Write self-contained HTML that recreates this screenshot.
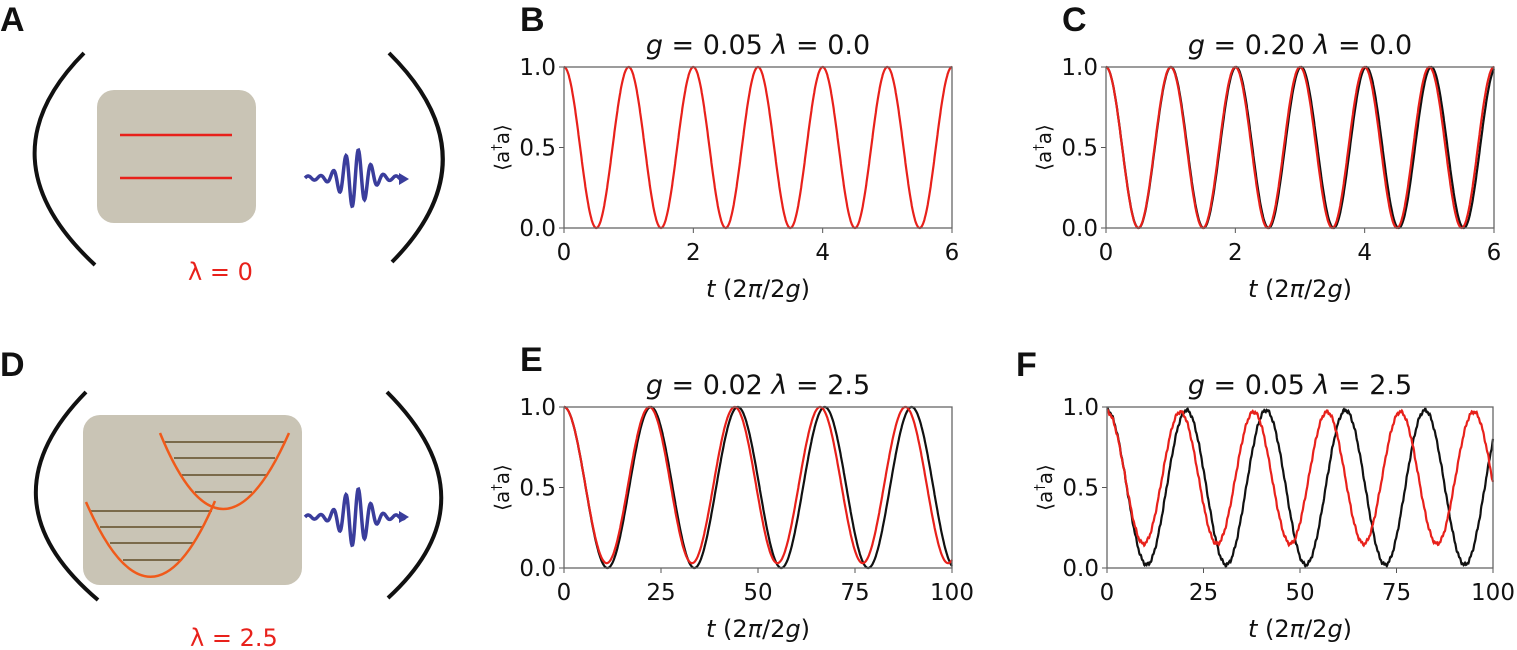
<!DOCTYPE html>
<html><head><meta charset="utf-8"><style>
body{margin:0;background:#fff;width:1517px;height:650px;overflow:hidden}
svg{display:block}
text{font-family:"DejaVu Sans","Liberation Sans",sans-serif;fill:#111}
</style></head><body>
<svg id="s" width="1517" height="650" viewBox="0 0 1517 650" xmlns="http://www.w3.org/2000/svg">
<g>
<text x="0" y="31" style="font-family:'Liberation Sans';font-weight:bold;font-size:34px">A</text>
<text x="520" y="31" style="font-family:'Liberation Sans';font-weight:bold;font-size:34px">B</text>
<text x="1062" y="31" style="font-family:'Liberation Sans';font-weight:bold;font-size:34px">C</text>
<text x="0" y="376" style="font-family:'Liberation Sans';font-weight:bold;font-size:34px">D</text>
<text x="520" y="371" style="font-family:'Liberation Sans';font-weight:bold;font-size:34px">E</text>
<text x="1016" y="376" style="font-family:'Liberation Sans';font-weight:bold;font-size:34px">F</text>
</g>
<!-- Panel A -->
<path d="M84,53 Q-20,158 95,265" fill="none" stroke="#111" stroke-width="4"/>
<path d="M389,53 Q495,158 392,262" fill="none" stroke="#111" stroke-width="4"/>
<rect x="97" y="90" width="159" height="133" rx="17" fill="#c9c4b5"/>
<line x1="120" y1="135" x2="232" y2="135" stroke="#e8211b" stroke-width="2.5"/>
<line x1="120" y1="178" x2="232" y2="178" stroke="#e8211b" stroke-width="2.5"/>
<path id="waveA" fill="none" stroke="#3a3d9c" stroke-width="3.5"/>
<polygon points="399,173 409,179 399,185" fill="#3a3d9c"/>
<text x="188" y="280" font-size="24"><tspan fill="#e8211b">λ = 0</tspan></text>
<!-- Panel D -->
<path d="M86,392 Q-20,500 98,600" fill="none" stroke="#111" stroke-width="4"/>
<path d="M387,392 Q495,500 388,598" fill="none" stroke="#111" stroke-width="4"/>
<rect x="83" y="415" width="219" height="170" rx="17" fill="#c9c4b5"/>
<g stroke="#7a6a4a" stroke-width="2">
<line x1="165" y1="442" x2="285" y2="442"/><line x1="174" y1="458" x2="275" y2="458"/>
<line x1="182" y1="475" x2="266" y2="475"/><line x1="195" y1="492" x2="252" y2="492"/>
<line x1="90" y1="511" x2="212" y2="511"/><line x1="100" y1="527" x2="203" y2="527"/>
<line x1="110" y1="543" x2="193" y2="543"/><line x1="123" y1="560" x2="180" y2="560"/>
</g>
<path d="M160,433 Q222,585 289,433" fill="none" stroke="#f05a1a" stroke-width="2.5"/>
<path d="M86,502 Q151,652 215,501" fill="none" stroke="#f05a1a" stroke-width="2.5"/>
<path id="waveD" fill="none" stroke="#3a3d9c" stroke-width="3.5"/>
<polygon points="399,511 409,517 399,523" fill="#3a3d9c"/>
<text x="190" y="646" font-size="24"><tspan fill="#e8211b">λ = 2.5</tspan></text>
<g id="plots"></g>
</svg>
<script>
function wave(id,y0){var d="";for(var i=0;i<=200;i++){var x=305+i*0.5;var u=(x-355)/17;var y=y0-27*Math.exp(-u*u)*Math.sin((x-305)*0.5)-2*Math.sin((x-305)*0.5);d+=(i?"L":"M")+x.toFixed(1)+","+y.toFixed(1);}document.getElementById(id).setAttribute("d",d);}
wave("waveA",178);wave("waveD",517);
var g=document.getElementById("plots"),out="";
function panel(x0,x1,y0,y1,xmax,xt,title,series){
 var W=x1-x0,H=y1-y0;
 out+='<text x="'+((x0+x1)/2)+'" y="'+(y0-13)+'" font-size="27" text-anchor="middle"><tspan font-style="italic">g</tspan> = '+title[0]+' <tspan font-style="italic">λ</tspan> = '+title[1]+'</text>';
 [0,0.5,1].forEach(function(v){var y=y1-v*H;out+='<line x1="'+(x0-5)+'" y1="'+y+'" x2="'+x0+'" y2="'+y+'" stroke="#555" stroke-width="1"/><text x="'+(x0-8)+'" y="'+(y+8)+'" font-size="23" text-anchor="end">'+v.toFixed(1)+'</text>';});
 xt.forEach(function(v){var x=x0+v/xmax*W;out+='<line x1="'+x+'" y1="'+y1+'" x2="'+x+'" y2="'+(y1+5)+'" stroke="#555" stroke-width="1"/><text x="'+x+'" y="'+(y1+32)+'" font-size="23" text-anchor="middle">'+v+'</text>';});
 out+='<text transform="translate('+(x0-55)+','+((y0+y1)/2)+') rotate(-90)" font-size="20" fill="#333" text-anchor="middle">⟨a<tspan font-size="13" dy="-8">†</tspan><tspan dy="8">a⟩</tspan></text>';
 out+='<text x="'+((x0+x1)/2)+'" y="'+(y1+69)+'" font-size="24" text-anchor="middle"><tspan font-style="italic">t</tspan> (2<tspan font-style="italic">π</tspan>/2<tspan font-style="italic">g</tspan>)</text>';
 series.forEach(function(s){var d="";for(var i=0;i<=800;i++){var t=i/800*xmax;var v=s.f(t);var x=x0+i/800*W,y=y1-v*H;d+=(i?"L":"M")+x.toFixed(1)+","+y.toFixed(1);}out+='<path d="'+d+'" fill="none" stroke="'+s.c+'" stroke-width="2.2"/>';});
 out+='<rect x="'+x0+'" y="'+y0+'" width="'+W+'" height="'+H+'" fill="none" stroke="#666" stroke-width="1.3"/>';
}
function osc(P,mn,mx,ph,noise){return function(t){var c=(1+Math.cos(2*Math.PI*(t-ph)/P))/2;var n=noise?noise*Math.sin(t*7.3)*Math.sin(t*3.1):0;return mn+(mx-mn)*c+n;};}
panel(564,952,67,228,6,[0,2,4,6],["0.05","0.0"],[{c:"#e8211b",f:osc(1,0,1,0)}]);
panel(1106,1494,67,228,6,[0,2,4,6],["0.20","0.0"],[{c:"#111",f:osc(1.006,0,1,0)},{c:"#e8211b",f:osc(1,0,1,0)}]);
panel(564,952,407,568,100,[0,25,50,75,100],["0.02","2.5"],[{c:"#111",f:osc(22.4,0,1,0)},{c:"#e8211b",f:osc(22,0.03,1,0)}]);
panel(1107,1493,407,568,100,[0,25,50,75,100],["0.05","2.5"],[{c:"#111",f:osc(20.6,0.02,0.98,0,0.012)},{c:"#e8211b",f:osc(19.0,0.15,0.97,0,0.012)}]);
g.innerHTML=out;
</script>
</body></html>
